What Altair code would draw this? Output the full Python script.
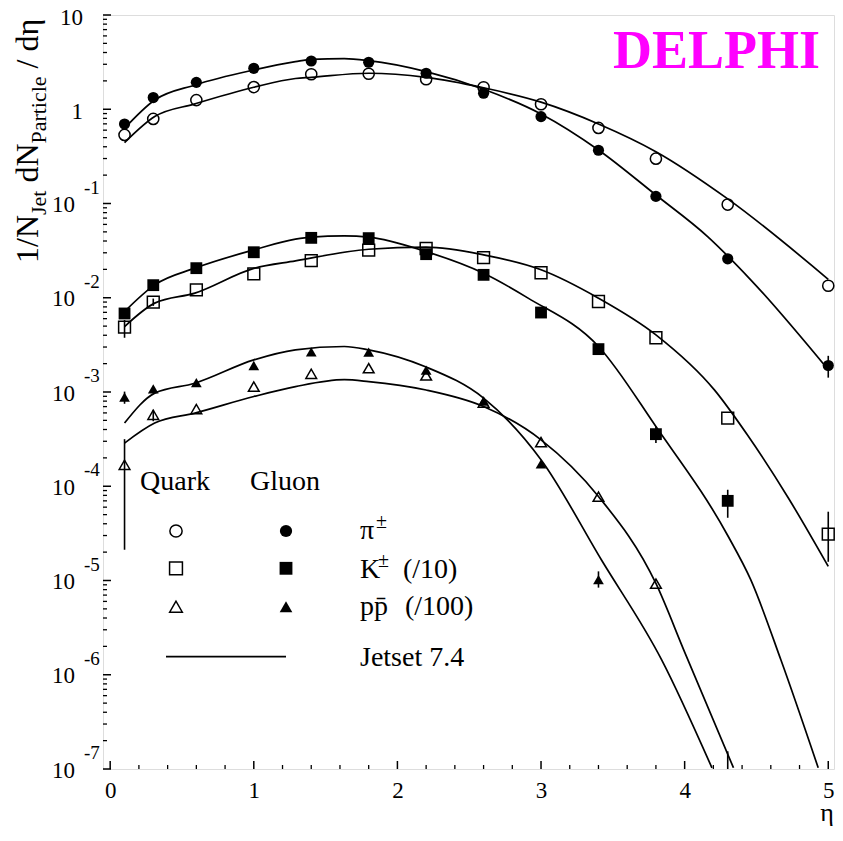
import altair as alt
import pandas as pd

# ---------------- data ----------------
eta = [0.1, 0.3, 0.6, 1.0, 1.4, 1.8, 2.2, 2.6, 3.0, 3.4, 3.8, 4.3, 5.0]

pi_quark = [0.534, 0.79, 1.25, 1.72, 2.35, 2.38, 2.08, 1.71, 1.13, 0.634, 0.299, 0.0975, 0.0134]
pi_gluon = [0.698, 1.33, 1.93, 2.72, 3.25, 3.15, 2.41, 1.48, 0.835, 0.367, 0.119, 0.0259, 0.00191]
k_quark = [0.00487, 0.00897, 0.01213, 0.0179, 0.0248, 0.032, 0.0333, 0.0267, 0.0184, 0.00912, 0.00376, 0.000528, 3.11e-5]
k_gluon = [0.00681, 0.0136, 0.0206, 0.0304, 0.0432, 0.0429, 0.029, 0.0175, 0.00697, 0.00285, 0.000357, 7.0e-5]
p_quark = [1.69e-4, 5.73e-4, 6.59e-4, 1.14e-3, 1.56e-3, 1.79e-3, 1.50e-3, 7.74e-4, 2.94e-4, 7.75e-5, 9.25e-6]
p_gluon = [8.83e-4, 1.08e-3, 1.26e-3, 1.91e-3, 2.67e-3, 2.65e-3, 1.71e-3, 8.0e-4, 1.73e-4, 1.02e-5]

err_eta = [0.1, 0.1, 0.3, 0.3, 0.1, 5.0, 5.0, 4.3, 3.8, 3.4, 4.3]
err_lo = [2.12e-5, 3.76e-3, 4.90e-4, 8.2e-3, 7.5e-4, 1.42e-3, 1.58e-5, 4.63e-5, 2.87e-4, 8.4e-6, 5e-8]
err_hi = [3.16e-4, 5.8e-3, 6.47e-4, 9.8e-3, 1.01e-3, 2.42e-3, 5.37e-5, 9.18e-5, 4.3e-4, 1.25e-5, 1.54e-7]

# Jetset 7.4 curves
jet_pi_q_eta = [0.1, 0.31, 0.59, 1.0, 1.29, 1.4, 1.8, 2.2, 2.6, 3.0, 3.4, 3.8, 4.3, 5.0]
jet_pi_q = [0.442, 0.836, 1.14, 1.71, 2.12, 2.18, 2.41, 2.18, 1.69, 1.19, 0.699, 0.355, 0.112, 0.0157]
jet_pi_g_eta = [0.1, 0.31, 0.59, 1.0, 1.29, 1.4, 1.63, 1.8, 2.2, 2.6, 3.0, 3.4, 3.8, 4.16, 4.46, 5.0]
jet_pi_g = [0.629, 1.255, 1.81, 2.61, 3.20, 3.39, 3.44, 3.28, 2.51, 1.63, 0.892, 0.370, 0.123, 0.0446, 0.0155, 0.00172]
jet_k_q_eta = [0.1, 0.31, 0.59, 1.0, 1.29, 1.8, 2.2, 2.6, 3.0, 3.4, 3.8, 4.21, 4.44, 4.72, 5.0]
jet_k_q = [0.00495, 0.00877, 0.0112, 0.0205, 0.0246, 0.0327, 0.0344, 0.0285, 0.0198, 0.0099, 0.00404, 0.00104, 3.45e-4, 7.6e-5, 1.41e-5]
jet_k_g_eta = [0.1, 0.31, 0.59, 1.0, 1.29, 1.4, 1.63, 1.8, 2.2, 2.6, 2.91, 3.4, 3.8, 4.3, 4.46, 4.67, 4.93]
jet_k_g = [0.00714, 0.0137, 0.0206, 0.0322, 0.0418, 0.0440, 0.0453, 0.0440, 0.0309, 0.0182, 0.00991, 0.00304, 0.000430, 3.0e-5, 1.02e-5, 1.44e-6, 1.03e-7]
jet_p_q_eta = [0.1, 0.31, 0.59, 1.0, 1.29, 1.63, 1.8, 2.2, 2.6, 3.0, 3.4, 3.8, 4.0, 4.34]
jet_p_q = [2.87e-4, 4.68e-4, 5.97e-4, 8.95e-4, 1.14e-3, 1.35e-3, 1.29e-3, 1.05e-3, 7.02e-4, 3.11e-4, 7.8e-5, 9.3e-6, 1.74e-6, 1.03e-7]
jet_p_g_eta = [0.1, 0.31, 0.59, 1.0, 1.29, 1.63, 1.8, 2.2, 2.6, 3.0, 3.42, 3.84, 4.19]
jet_p_g = [4.68e-4, 9.73e-4, 1.24e-3, 2.19e-3, 2.80e-3, 3.04e-3, 2.80e-3, 1.84e-3, 8.61e-4, 1.91e-4, 1.66e-5, 1.44e-6, 1.03e-7]

x_major = [0, 1, 2, 3, 4, 5]
x_minor = [0.2, 0.4, 0.6, 0.8, 1.2, 1.4, 1.6, 1.8, 2.2, 2.4, 2.6, 2.8, 3.2, 3.4, 3.6, 3.8,
           4.2, 4.4, 4.6, 4.8]
y_exps = [1, 0, -1, -2, -3, -4, -5, -6, -7]
y_mult = [2, 3, 4, 5, 6, 7, 8, 9]

FONT = "Liberation Serif"
W, H = 731, 754

# ---------------- encodings ----------------
X = alt.X("eta:Q", scale=alt.Scale(domain=[-0.05, 5.04], nice=False, zero=False),
          axis=alt.Axis(values=x_major, format="d", title=None, ticks=False, domain=False,
                        grid=False, labelFont=FONT, labelFontSize=23, labelColor="black",
                        labelPadding=10))
Y = alt.Y("val:Q", scale=alt.Scale(type="log", domain=[1e-7, 10], nice=False), axis=None)


def df(xs, ys):
    return pd.DataFrame({"eta": xs[:len(ys)], "val": ys})


layers = []

# Jetset curves
for xs, ys in [(jet_pi_q_eta, jet_pi_q), (jet_pi_g_eta, jet_pi_g), (jet_k_q_eta, jet_k_q),
               (jet_k_g_eta, jet_k_g), (jet_p_q_eta, jet_p_q), (jet_p_g_eta, jet_p_g)]:
    layers.append(alt.Chart(df(xs, ys)).mark_line(color="black", strokeWidth=1.7,
                                                  interpolate="monotone", clip=True)
                  .encode(x=X, y=Y))

# error bars
err_df = pd.DataFrame({"eta": err_eta, "val": err_lo, "val2": err_hi})
layers.append(alt.Chart(err_df).mark_rule(color="black", strokeWidth=1.6, clip=True)
              .encode(x=X, y=Y, y2="val2:Q"))

# data points
open_style = dict(filled=False, stroke="black", strokeWidth=1.5, opacity=1)
fill_style = dict(filled=True, color="black", opacity=1)
series = [
    (pi_quark, "circle", 125, open_style), (pi_gluon, "circle", 125, fill_style),
    (k_quark, "square", 140, open_style), (k_gluon, "square", 140, fill_style),
    (p_quark, "triangle-up", 115, open_style), (p_gluon, "triangle-up", 115, fill_style),
]
for ys, shp, sz, st in series:
    layers.append(alt.Chart(df(eta, ys)).mark_point(shape=shp, size=sz, **st)
                  .encode(x=X, y=Y))

# axis ticks (inward)
layers.append(alt.Chart(pd.DataFrame({"val": [10.0 ** e for e in y_exps]}))
              .mark_rule(color="black", strokeWidth=1.5)
              .encode(y=Y, x=alt.value(0), x2=alt.value(8)))
layers.append(alt.Chart(pd.DataFrame({"val": [m * 10.0 ** e for e in y_exps[1:] for m in y_mult]}))
              .mark_rule(color="black", strokeWidth=1.3)
              .encode(y=Y, x=alt.value(0), x2=alt.value(4)))
layers.append(alt.Chart(pd.DataFrame({"eta": x_major})).mark_rule(color="black", strokeWidth=1.5)
              .encode(x=X, y=alt.value(H), y2=alt.value(H - 8)))
layers.append(alt.Chart(pd.DataFrame({"eta": x_minor})).mark_rule(color="black", strokeWidth=1.3)
              .encode(x=X, y=alt.value(H), y2=alt.value(H - 4)))

# y tick labels: 10 with superscript exponent
ylab = pd.DataFrame({"val": [10.0 ** e for e in y_exps[2:]],
                     "exp": [str(e) for e in y_exps[2:]]})
layers.append(alt.Chart(ylab).mark_text(font=FONT, fontSize=23, align="right", baseline="middle",
                                        dy=1.5, text="10", color="black")
              .encode(y=Y, x=alt.value(-28)))
layers.append(alt.Chart(ylab).mark_text(font=FONT, fontSize=19, align="left", baseline="middle",
                                        dy=-16, color="black")
              .encode(y=Y, x=alt.value(-19), text="exp:N"))
ytop = pd.DataFrame({"val": [10.0, 1.0], "t": ["10", "1"]})
layers.append(alt.Chart(ytop).mark_text(font=FONT, fontSize=23, align="right", baseline="middle",
                                        dy=3, color="black")
              .encode(y=Y, x=alt.value(-20), text="t:N"))


def label(text, x, y, size, align="left", angle=0, **kw):
    return (alt.Chart(pd.DataFrame({"t": [text]}))
            .mark_text(font=FONT, fontSize=size, align=align, baseline="alphabetic",
                       angle=angle, color=kw.pop("color", "black"), **kw)
            .encode(x=alt.value(x), y=alt.value(y), text="t:N"))


# y-axis title (rotated, built from pieces)
layers += [
    label("1/N", -65, 248, 32, angle=270),
    label("Jet", -57, 200, 22, angle=270),
    label("dN", -65, 167.6, 32, angle=270),
    label("Particle", -57, 128.6, 22, angle=270),
    label("/ dη", -65, 53.4, 32, angle=270),
]

# x-axis title
layers.append(label("η", 724, 806, 26, align="center"))

# DELPHI
layers.append(label("DELPHI", 717, 53, 54, align="right", fontWeight="bold", color="#ff00ff"))

# legend
layers += [
    label("Quark", 37, 475, 28),
    label("Gluon", 147, 475, 28),
    label("π", 257, 524, 28),
    label("±", 273, 513, 20),
    label("K", 257, 563, 28),
    label("±", 275, 552, 20),
    label("(/10)", 300, 563, 28),
    label("pp̄", 257, 600, 28),
    label("(/100)", 302, 600, 28),
    label("Jetset 7.4", 257, 651, 28),
]
one = pd.DataFrame({"a": [0]})
leg_sym = [("circle", 150, open_style, 516), ("square", 165, open_style, 553.3),
           ("triangle-up", 160, open_style, 591.7)]
for shp, sz, st, yy in leg_sym:
    layers.append(alt.Chart(one).mark_point(shape=shp, size=sz, **st)
                  .encode(x=alt.value(73), y=alt.value(yy)))
    layers.append(alt.Chart(one).mark_point(shape=shp, size=sz, **fill_style)
                  .encode(x=alt.value(183), y=alt.value(yy)))
layers.append(alt.Chart(one).mark_rule(color="black", strokeWidth=1.7)
              .encode(x=alt.value(63), x2=alt.value(183), y=alt.value(641.7)))

chart = (alt.layer(*layers)
         .properties(width=W, height=H,
                     autosize=alt.AutoSizeParams(type="none"),
                     padding={"left": 95, "top": 7, "right": 1, "bottom": 58})
         .configure_view(stroke="black", strokeWidth=2)
         .configure(background="white"))

chart.save("out.html", embed_options={"renderer": "svg", "actions": False})
